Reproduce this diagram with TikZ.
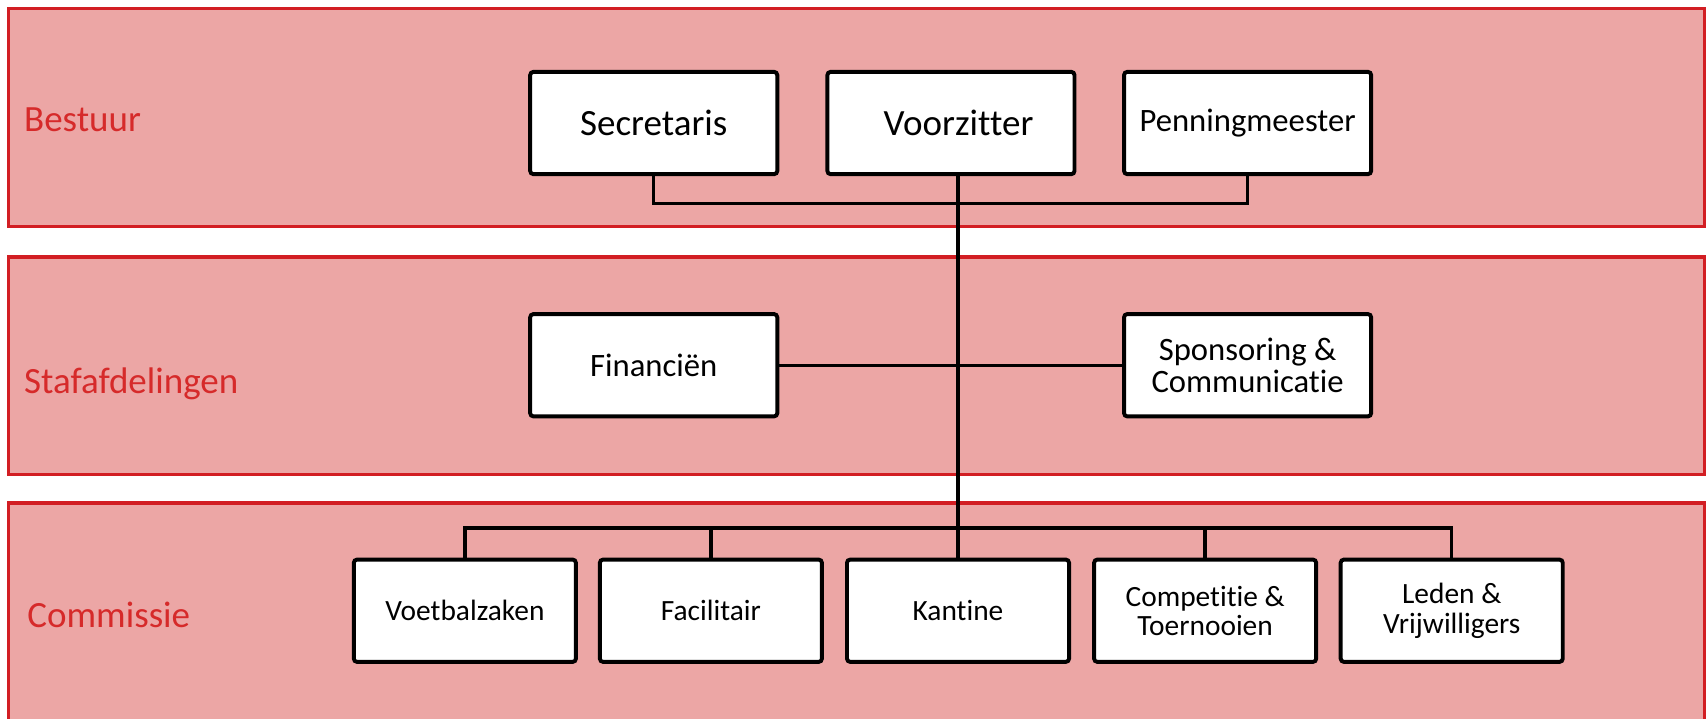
\documentclass[tikz,border=0pt]{standalone}
\usepackage{fontspec}
\setmainfont{Carlito}[Ligatures=NoCommon]
\definecolor{bandfill}{RGB}{236,166,165}
\definecolor{bandline}{RGB}{210,30,35}
\definecolor{labelred}{RGB}{214,42,42}
\begin{document}
\begin{tikzpicture}[x=1pt,y=-1pt,
  band/.style={fill=bandfill,draw=bandline,line width=3pt},
  lbl/.style={anchor=base west,inner sep=0pt,text=labelred,font=\fontsize{34}{40}\selectfont},
  box/.style={draw=black,fill=white,line width=3.6pt,rounded corners=3pt,
    minimum width=227pt,minimum height=94pt,inner sep=0pt,align=center},
  smallbox/.style={box,minimum width=204pt},
  bigtxt/.style={font=\fontsize{34}{36}\selectfont},
  midtxt/.style={font=\fontsize{30}{29}\selectfont},
  lowtxt/.style={font=\fontsize{27}{27}\selectfont},
  conn/.style={draw=black,line width=3.2pt}]
\useasboundingbox (0,0) rectangle (1568,660);
\clip (0,0) rectangle (1568,660);
% bands
\draw[band] (8,8) rectangle (1566,208);
\draw[band] (8,236) rectangle (1566,436);
\draw[band] (8,462) rectangle (1566,700);
% band labels
\node[lbl] (lb1) at (22,121) {Bestuur};
\node[lbl] (lb2) at (22,361) {Stafafdelingen};
\node[lbl] (lb3) at (25,576) {Commissie};
% connectors
\coordinate (bus) at (880,485);
\coordinate (topbar) at (880,187);
% boxes
\node[box,bigtxt] (sec) at (600.5,113) {Secretaris};
\node[box,bigtxt] (voo) at (873.5,113) {\hspace*{14pt}Voorzitter};
\node[box,midtxt] (pen) at (1146,113) {Penningmeester};
\node[box,midtxt] (fin) at (600.5,335.5) {Financiën};
\node[box,midtxt] (spo) at (1146,335.5) {Sponsoring \&\\Communicatie};
\node[smallbox,lowtxt] (voe) at (427,561) {Voetbalzaken};
\node[smallbox,lowtxt] (fac) at (653,561) {Facilitair};
\node[smallbox,lowtxt] (kan) at (880,561) {Kantine};
\node[smallbox,lowtxt] (com) at (1107,561) {Competitie \&\\Toernooien};
\node[smallbox,lowtxt] (led) at (1333.5,561) {Leden \&\\Vrijwilligers};
\draw[conn] (sec.south) |- (topbar) -| (pen.south);
\draw[conn] (voo.south -| kan.north) -- (kan.north);
\draw[conn] (fin.east) -- (spo.west);
\draw[conn] (voe.north) |- (bus) -| (led.north);
\draw[conn] (fac.north) -- (fac.north |- bus);
\draw[conn] (com.north) -- (com.north |- bus);
\end{tikzpicture}
\end{document}
